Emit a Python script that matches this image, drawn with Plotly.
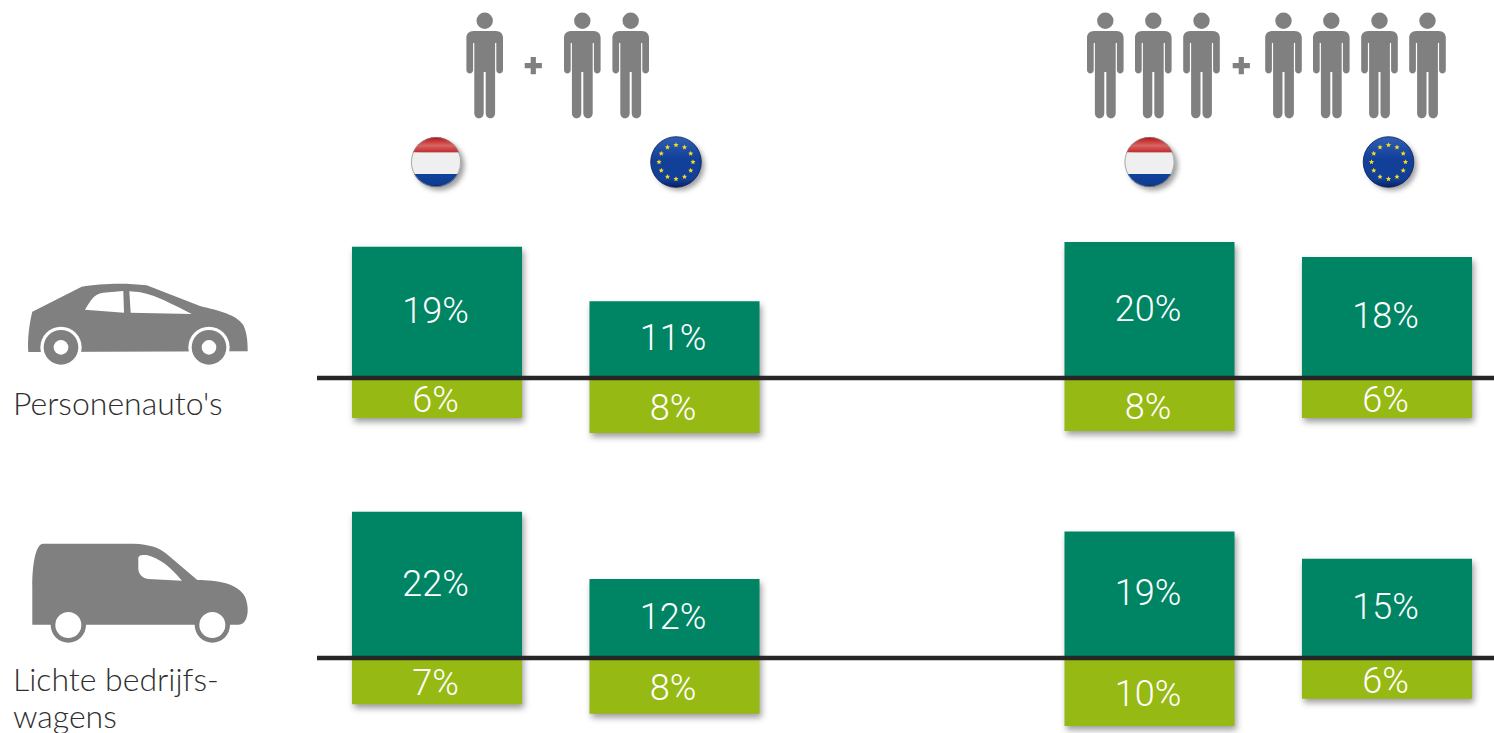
import re, math, base64
import plotly.graph_objects as go

W, H = 1494, 733

# ---- data -----------------------------------------------------------
categories = ["NL 1+2", "EU 1+2", " ", "NL 3+4", "EU 3+4"]
cars_up = [19.3, 11.3, None, 20.0, 17.8]
cars_down = [-5.9, -8.1, None, -7.8, -5.9]
vans_up = [21.5, 11.6, None, 18.6, 14.6]
vans_down = [-6.8, -8.2, None, -10.0, -6.0]
row_labels = [("Personenauto's", 402.5), ("Lichte bedrijfs-", 678.5), ("wagens", 715)]

GREEN = "#008564"
LIME = "#97b913"
GREY = "#808080"
FONT = "Lato"
VALUE_FONT = "Roboto"

# ---- axis scales ------------------------------------------------------
PX = 6.8
def yrange(base):
    return [-(H - base) / PX, base / PX]

fig = go.Figure()

def add_row(up, down, yaxis):
    fig.add_trace(go.Bar(x=categories, y=up, width=0.716, marker=dict(color=GREEN, line_width=0),
                         yaxis=yaxis, showlegend=False))
    fig.add_trace(go.Bar(x=categories, y=down, width=0.716, marker=dict(color=LIME, line_width=0),
                         yaxis=yaxis, showlegend=False))
    for vals, nudge in ((up, -0.25), (down, -0.75)):
        fig.add_trace(go.Scatter(
            x=categories, y=[None if v is None else v / 2 + nudge for v in vals],
            text=["" if v is None else f"{abs(v):.0f}%" for v in vals],
            mode="text", xaxis="x2", yaxis=yaxis, showlegend=False,
            textfont=dict(family=VALUE_FONT, size=36, color="white", weight=300),
            textposition="middle center"))

add_row(cars_up, cars_down, "y")
add_row(vans_up, vans_down, "y2")

# ---- pictogram helpers (page pixels -> paper) ---------------------------
def to_paper(path):
    nums = iter(re.findall(r"[A-Za-z]|-?\d+\.?\d*", path))
    out, is_x = [], True
    for t in nums:
        if t.isalpha():
            out.append(t)
            is_x = True
        else:
            v = float(t)
            out.append(f"{v / W:.5f}" if is_x else f"{1 - v / H:.5f}")
            is_x = not is_x
    return " ".join(out)

shapes = []
def path(d, color=GREY):
    shapes.append(dict(type="path", xref="paper", yref="paper", path=to_paper(d),
                       fillcolor=color, line_width=0, layer="above"))
def disc(cx, cy, r, color=GREY):
    shapes.append(dict(type="circle", xref="paper", yref="paper",
                       x0=(cx - r) / W, x1=(cx + r) / W, y0=1 - (cy + r) / H, y1=1 - (cy - r) / H,
                       fillcolor=color, line_width=0, layer="above"))

def person(c):
    disc(c, 20.7, 8.2)
    path(f"M {c-11} 31 L {c+11} 31 C {c+16} 31 {c+18.3} 34 {c+18.3} 38 L {c+18.3} 70 "
         f"C {c+18.3} 74.5 {c+11.6} 74.5 {c+11.6} 70 L {c+11.6} 43 L {c+10.4} 43 L {c+10.4} 113 "
         f"C {c+10.4} 120 {c+1} 120 {c+1} 113 L {c+1} 72 L {c-1} 72 L {c-1} 113 "
         f"C {c-1} 120 {c-10.4} 120 {c-10.4} 113 L {c-10.4} 43 L {c-11.6} 43 L {c-11.6} 70 "
         f"C {c-11.6} 74.5 {c-18.3} 74.5 {c-18.3} 70 L {c-18.3} 38 C {c-18.3} 34 {c-16} 31 {c-11} 31 Z")

def plus(c, y=65.7):
    a, t = 8.6, 2.6
    path(f"M {c-t} {y-a} L {c+t} {y-a} L {c+t} {y-t} L {c+a} {y-t} L {c+a} {y+t} L {c+t} {y+t} "
         f"L {c+t} {y+a} L {c-t} {y+a} L {c-t} {y+t} L {c-a} {y+t} L {c-a} {y-t} L {c-t} {y-t} Z")

for c in (484.7, 582.3, 630.7, 1105.3, 1153.3, 1201.5, 1283.5, 1331.3, 1379.5, 1427.5):
    person(c)
plus(533.3)
plus(1241.3)

def zx(v): return v / 3
def zc(pts, oy):
    return " ".join(f"{zx(a):.1f} {b / 3 + oy:.1f}" for a, b in pts)

oy = 270
path(f"M {zc([(85,246)],oy)} C {zc([(82,210),(88,160),(97,125)],oy)} L {zc([(245,50)],oy)} "
     f"C {zc([(300,40),(380,38),(440,46)],oy)} L {zc([(600,108)],oy)} "
     f"C {zc([(660,122),(710,135),(730,165)],oy)} C {zc([(742,190),(743,220),(743,244)],oy)} "
     f"L {zc([(85,246)],oy)} Z")
path(f"M {zc([(255,119)],oy)} C {zc([(270,95),(280,72),(310,68)],oy)} L {zc([(370,63)],oy)} L {zc([(372,128)],oy)} Z", "white")
path(f"M {zc([(388,64)],oy)} C {zc([(440,66),(470,78),(575,132)],oy)} L {zc([(392,128)],oy)} Z", "white")
for wx in (183, 627):
    disc(zx(wx), 232 / 3 + oy, 62 / 3, "white")
    disc(zx(wx), 232 / 3 + oy, 52 / 3)
    disc(zx(wx), 232 / 3 + oy, 22 / 3, "white")

# van
oy = 530
path(f"M {zc([(97,284)],oy)} L {zc([(97,170)],oy)} C {zc([(97,110),(105,42),(130,41)],oy)} "
     f"L {zc([(400,41)],oy)} C {zc([(450,42),(480,55),(500,72)],oy)} L {zc([(592,150)],oy)} "
     f"C {zc([(650,150),(715,160),(735,200)],oy)} C {zc([(750,235),(745,284),(715,284)],oy)} Z")
path(f"M {zc([(415,85)],oy)} C {zc([(415,75),(425,74),(440,75)],oy)} C {zc([(480,85),(510,110),(546,152)],oy)} "
     f"L {zc([(445,147)],oy)} C {zc([(425,145),(415,130),(415,115)],oy)} Z", "white")
for wx in (205, 637):
    disc(zx(wx), 285 / 3 + oy, 53 / 3)
    disc(zx(wx), 285 / 3 + oy, 39 / 3, "white")

# baselines, bound to the zero of each value axis
for ref in ("y", "y2"):
    shapes.append(dict(type="line", xref="paper", yref=ref, x0=317 / W, x1=1, y0=0, y1=0,
                       line=dict(color="#262626", width=4.5), layer="above"))

# ---- badges ------------------------------------------------------------
BADGE_DEFS = """
<defs>
<filter id='b' x='-30%' y='-30%' width='160%' height='160%'><feGaussianBlur stdDeviation='2.4'/></filter>
<clipPath id='c'><circle cx='36' cy='36' r='25'/></clipPath>
<linearGradient id='e' x1='0' y1='0' x2='0' y2='1'>
<stop offset='0' stop-color='#2f5fb4'/><stop offset='.45' stop-color='#123f98'/><stop offset='.85' stop-color='#123f98'/><stop offset='1' stop-color='#08205c'/></linearGradient>
<linearGradient id='r' x1='0' y1='0' x2='0' y2='1'>
<stop offset='0' stop-color='#a80c10'/><stop offset='.18' stop-color='#c42a2c'/><stop offset='.55' stop-color='#d66462'/><stop offset='1' stop-color='#c4282b'/></linearGradient>
<linearGradient id='l' x1='0' y1='0' x2='0' y2='1'>
<stop offset='0' stop-color='#12439c'/><stop offset='.8' stop-color='#0f3c90'/><stop offset='1' stop-color='#06184c'/></linearGradient>
</defs>"""

def star(cx, cy, r=2.7):
    pts = []
    for k in range(10):
        a = -math.pi / 2 + k * math.pi / 5
        rr = r if k % 2 == 0 else r * 0.45
        pts.append(f"{cx + rr * math.cos(a):.2f},{cy + rr * math.sin(a):.2f}")
    return f"<polygon points='{' '.join(pts)}' fill='#f7dc20'/>"

def badge(kind):
    s = f"<svg xmlns='http://www.w3.org/2000/svg' width='72' height='72' viewBox='0 0 72 72'>{BADGE_DEFS}"
    s += "<circle cx='39.5' cy='39.5' r='25' fill='#555' opacity='.55' filter='url(#b)'/>"
    if kind == "nl":
        s += ("<g clip-path='url(#c)'><rect x='0' y='11' width='72' height='15.5' fill='url(#r)'/>"
              "<rect x='0' y='26.5' width='72' height='21.5' fill='#efefef'/>"
              "<rect x='0' y='48' width='72' height='13' fill='url(#l)'/></g>"
              "<circle cx='36' cy='36' r='24.6' fill='none' stroke='#8a8a8a' stroke-width='.7'/>")
    else:
        s += "<circle cx='36' cy='36' r='25.3' fill='url(#e)' stroke='#0a1f55' stroke-width='.8'/>"
        for k in range(12):
            a = math.radians(30 * k)
            s += star(36 + 17 * math.sin(a), 36 - 17 * math.cos(a))
    s += "</svg>"
    return "data:image/svg+xml;base64," + base64.b64encode(s.encode()).decode()

images = []
for cx, kind in ((436, "nl"), (676, "eu"), (1149.5, "nl"), (1388.5, "eu")):
    images.append(dict(source=badge(kind), xref="paper", yref="paper", x=(cx - 36) / W, y=1 - (162 - 36) / H,
                       sizex=72 / W, sizey=72 / H, xanchor="left", yanchor="top", sizing="stretch", layer="above"))

annotations = [dict(text=t, xref="paper", yref="paper", x=11 / W, y=1 - y / H, xanchor="left", yanchor="middle",
                    showarrow=False, font=dict(family=FONT, size=32, color="#2e2e2e", weight=300))
               for t, y in row_labels]

axis_off = dict(visible=False, fixedrange=True)
xr = [-437 / 237.5, (W - 437) / 237.5]
fig.update_layout(
    width=W, height=H, autosize=False, margin=dict(l=0, r=0, t=0, b=0),
    paper_bgcolor="white", plot_bgcolor="white", barmode="relative", showlegend=False,
    xaxis=dict(axis_off, type="category", categoryorder="array", categoryarray=categories, range=xr),
    xaxis2=dict(axis_off, type="category", categoryorder="array", categoryarray=categories,
                range=[xr[0] + 1.5 / 237.5, xr[1] + 1.5 / 237.5], overlaying="x"),
    yaxis=dict(axis_off, range=yrange(378), domain=[0, 1]),
    yaxis2=dict(axis_off, range=yrange(658), domain=[0, 1], overlaying="y"),
    shapes=shapes, images=images, annotations=annotations,
)

post = """
document.body.style.margin='0';document.body.style.overflow='hidden';
document.querySelectorAll('.barlayer .point path').forEach(function(p){
  p.style.filter='drop-shadow(2px 4px 3px rgba(0,0,0,.38))';});
"""
fig.write_html("out.html", config={"displayModeBar": False}, post_script=post)
